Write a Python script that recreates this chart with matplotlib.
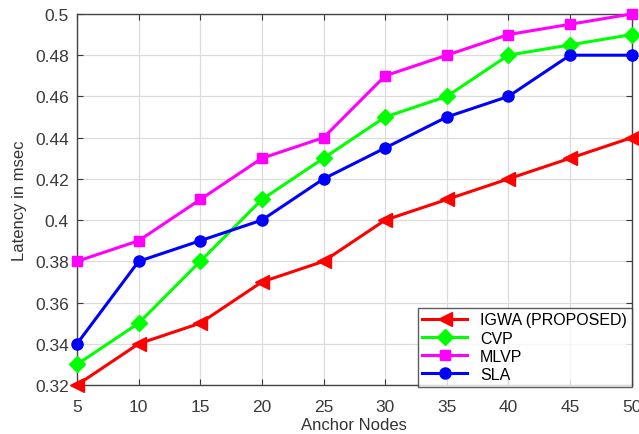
import matplotlib
matplotlib.use("Agg")
import matplotlib.pyplot as plt

plt.rcParams['font.family'] = ['Liberation Sans', 'DejaVu Sans']

x = [5, 10, 15, 20, 25, 30, 35, 40, 45, 50]
igwa = [0.32, 0.34, 0.35, 0.37, 0.38, 0.40, 0.41, 0.42, 0.43, 0.44]
cvp = [0.33, 0.35, 0.38, 0.41, 0.43, 0.45, 0.46, 0.48, 0.485, 0.49]
mlvp = [0.38, 0.39, 0.41, 0.43, 0.44, 0.47, 0.48, 0.49, 0.495, 0.50]
sla = [0.34, 0.38, 0.39, 0.40, 0.42, 0.435, 0.45, 0.46, 0.48, 0.48]
yticks = [0.32, 0.34, 0.36, 0.38, 0.40, 0.42, 0.44, 0.46, 0.48, 0.50]
yticklabels = ['0.32', '0.34', '0.36', '0.38', '0.4', '0.42', '0.44', '0.46', '0.48', '0.5']

fig = plt.figure(figsize=(6.39, 4.35), dpi=100)
ax = fig.add_axes([0.1205, 0.1126, 0.868, 0.853])

lw = 2.2
ax.plot(x, igwa, color='#ff0000', marker='<', markersize=10, lw=lw, label='IGWA (PROPOSED)', clip_on=False, zorder=5)
ax.plot(x, cvp, color='#00ff00', marker='D', markersize=8, lw=lw, label='CVP', clip_on=False, zorder=5)
ax.plot(x, mlvp, color='#ff00ff', marker='s', markersize=7, lw=lw, label='MLVP', clip_on=False, zorder=5)
ax.plot(x, sla, color='#0000ff', marker='o', markersize=8, lw=lw, label='SLA', clip_on=False, zorder=5)

ax.set_xlim(5, 50)
ax.set_ylim(0.32, 0.50)
ax.set_xticks(x)
ax.set_yticks(yticks)
ax.set_yticklabels(yticklabels)
ax.grid(True, color='#dcdcdc', lw=0.9)
ax.set_axisbelow(True)
ax.tick_params(direction='in', top=True, right=True, labelsize=12.5, colors='#3a3a3a', length=4)
ax.tick_params(axis='x', pad=10)
ax.tick_params(axis='y', pad=6)
for s in ax.spines.values():
    s.set_color('#444444')
    s.set_linewidth(1.0)

ax.set_xlabel('Anchor Nodes', fontsize=12, color='#333333', labelpad=2)
ax.set_ylabel('Latency in msec', fontsize=12, color='#333333', labelpad=6)

leg = ax.legend(loc='lower right', fontsize=11.5, frameon=True, fancybox=False,
                edgecolor='#333333', borderaxespad=0, handlelength=2.8,
                labelspacing=0.2, borderpad=0.3, bbox_to_anchor=(1.0, -0.005))
leg.get_frame().set_linewidth(1.0)

fig.savefig('out.png', dpi=100)
